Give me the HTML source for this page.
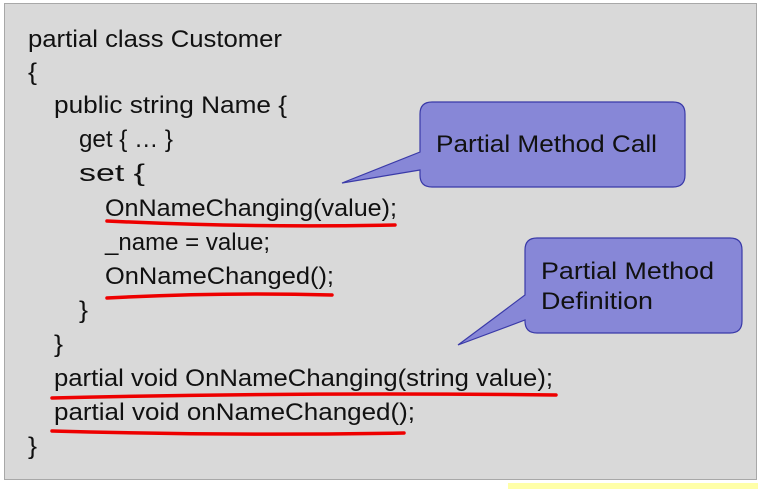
<!DOCTYPE html>
<html><head><style>
html,body{margin:0;padding:0;background:#fff;width:760px;height:489px;overflow:hidden}
svg text{font-family:"Liberation Sans",sans-serif;fill:#111}
</style></head><body>
<svg width="760" height="489" viewBox="0 0 760 489" xmlns="http://www.w3.org/2000/svg">
<rect x="508" y="483" width="250" height="6" fill="#ffffa8"/>
<rect x="4.5" y="3.5" width="752" height="476" fill="#d9d9d9" stroke="#a8a8a8" stroke-width="1"/>
<g font-size="24">
<text x="28" y="47" textLength="254" lengthAdjust="spacingAndGlyphs">partial class Customer</text>
<text x="28" y="80" textLength="9" lengthAdjust="spacingAndGlyphs">{</text>
<text x="54" y="113" textLength="233" lengthAdjust="spacingAndGlyphs">public string Name {</text>
<text x="79" y="147" textLength="94" lengthAdjust="spacingAndGlyphs">get { … }</text>
<text x="79" y="181" textLength="66" lengthAdjust="spacingAndGlyphs">set {</text>
<text x="105" y="216" textLength="292" lengthAdjust="spacingAndGlyphs">OnNameChanging(value);</text>
<text x="105" y="250" textLength="165" lengthAdjust="spacingAndGlyphs">_name = value;</text>
<text x="105" y="284" textLength="229" lengthAdjust="spacingAndGlyphs">OnNameChanged();</text>
<text x="79" y="318" textLength="9" lengthAdjust="spacingAndGlyphs">}</text>
<text x="54" y="352" textLength="9" lengthAdjust="spacingAndGlyphs">}</text>
<text x="54" y="386" textLength="499" lengthAdjust="spacingAndGlyphs">partial void OnNameChanging(string value);</text>
<text x="54" y="420" textLength="361" lengthAdjust="spacingAndGlyphs">partial void onNameChanged();</text>
<text x="28" y="454" textLength="9" lengthAdjust="spacingAndGlyphs">}</text>
</g>
<g stroke="#ee0000" stroke-width="3.5" fill="none" stroke-linecap="round">
<path d="M107 221 Q250 228 395 225"/>
<path d="M107 298 Q220 292 332 295"/>
<path d="M52 398 Q300 392 556 395"/>
<path d="M52 431 Q230 436 404 433"/>
</g>
<g fill="#8787d7" stroke="#3a3aa8" stroke-width="1.2">
<path d="M432 102 H673 Q685 102 685 114 V175 Q685 187 673 187 H432 Q420 187 420 175 V170 L342 183 L420 152 V114 Q420 102 432 102 Z"/>
<path d="M537 238 H730 Q742 238 742 250 V321 Q742 333 730 333 H537 Q525 333 525 321 V320 L458 345 L525 295 V250 Q525 238 537 238 Z"/>
</g>
<g font-size="24">
<text x="436" y="152" textLength="221" lengthAdjust="spacingAndGlyphs">Partial Method Call</text>
<text x="541" y="279" textLength="173" lengthAdjust="spacingAndGlyphs">Partial Method</text>
<text x="541" y="309" textLength="112" lengthAdjust="spacingAndGlyphs">Definition</text>
</g>
</svg>
</body></html>
